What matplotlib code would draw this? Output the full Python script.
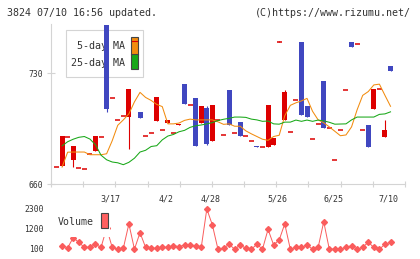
import numpy as np
import matplotlib
matplotlib.use("Agg")
import matplotlib.pyplot as plt
from matplotlib.patches import Rectangle
from matplotlib.transforms import blended_transform_factory

nan = np.nan

# daily prices (61 trading days)
opens = [670.7, 671.5, 689.6, 674.9, 670.3, 669.5, 678.7, 680.6, 690.0, 760.5,
         714.6, 700.5, 702.9, 702.6, nan, 705.6, 690.3, 692.2, 700.1, 694.2,
         698.8, 692.5, 697.0, 723.3, 709.8, 714.4, 698.8, 708.1, 686.9, 700.5,
         690.9, 719.5, 692.2, 699.3, 690.3, 687.1, 684.2, 683.5, 683.1, 684.8,
         749.5, 700.7, 693.0, 713.0, 749.7, 709.4, 688.6, 697.8, 725.1, 695.3,
         675.1, 694.1, 719.3, 749.7, 748.3, 694.1, 697.4, 707.7, 720.1, 690.0,
         734.6]
closes = [670.7, 690.5, 689.6, 683.7, 670.3, 669.5, 678.7, 690.5, 690.0, 707.3,
          714.6, 700.5, 702.9, 720.1, nan, 702.0, 690.3, 692.2, 715.1, 694.2,
          700.5, 692.5, 698.2, 710.8, 709.8, 683.7, 709.4, 685.4, 710.0, 700.5,
          690.9, 697.0, 692.2, 690.6, 690.3, 687.1, 683.1, 683.5, 710.0, 689.2,
          749.5, 718.2, 693.0, 713.0, 703.7, 702.4, 688.6, 697.8, 695.1, 695.3,
          675.1, 694.1, 719.3, 746.8, 748.3, 694.1, 683.1, 720.1, 720.1, 694.2,
          731.5]
highs = [670.7, 690.5, 689.6, 683.7, 670.3, 669.5, 678.7, 690.5, 690.0, 760.5,
         714.6, 700.5, 702.9, 720.1, nan, 705.6, 690.3, 692.2, 715.1, 694.2,
         700.5, 692.5, 698.2, 723.3, 709.8, 714.4, 709.4, 709.4, 710.0, 700.5,
         690.9, 719.5, 692.2, 699.3, 690.3, 687.1, 684.2, 683.5, 710.0, 689.2,
         750.5, 719.5, 693.0, 713.0, 749.7, 709.4, 688.6, 697.8, 725.1, 695.3,
         675.1, 694.1, 719.3, 749.7, 748.3, 694.1, 697.4, 720.1, 720.1, 700.5,
         734.6]
lows = [670.7, 671.5, 689.6, 670.7, 670.3, 669.5, 678.7, 680.6, 690.0, 705.4,
        714.6, 700.5, 702.9, 682.1, nan, 702.0, 690.3, 692.2, 700.1, 694.2,
        698.8, 692.5, 697.0, 710.8, 709.8, 683.7, 698.8, 684.8, 686.9, 700.5,
        690.9, 697.0, 692.2, 690.6, 690.3, 687.1, 683.1, 683.5, 683.1, 684.8,
        749.5, 700.7, 693.0, 713.0, 703.7, 702.4, 688.6, 697.8, 695.1, 695.3,
        675.1, 694.1, 719.3, 746.8, 748.3, 694.1, 683.1, 707.7, 720.1, 690.0,
        731.5]

# moving averages, days 1..60
ma5 = [670.7, 680.1, 680.2, 680.2, 680.2, 678.5, 678.5, 678.5, 679.1, 687.3,
       697.1, 700.5, 704.3, 711.9, 717.9, 714.7, 712.8, 710.3, 708.9, 698.0,
       698.0, 698.5, 700.2, 701.0, 700.5, 700.5, 700.5, 700.5, 699.3, 697.7,
       698.0, 696.5, 696.5, 693.6, 691.7, 690.0, 688.3, 687.6, 690.0, 690.8,
       703.1, 709.7, 711.3, 712.5, 714.1, 705.9, 700.5, 698.7, 696.1, 693.3,
       690.5, 691.0, 696.1, 706.9, 716.0, 718.4, 722.6, 723.1, 716.0, 709.1]
ma25 = [684.1, 686.7, 688.3, 689.5, 690.0, 688.4, 684.8, 678.2, 675.3, 673.9,
        673.4, 672.2, 673.7, 676.3, 680.2, 681.3, 683.7, 684.2, 687.9, 690.3,
        691.3, 693.0, 693.9, 695.8, 696.8, 697.3, 698.0, 698.8, 700.1, 700.9,
        701.5, 702.3, 702.3, 702.1, 701.0, 700.5, 699.6, 699.8, 698.0, 697.8,
        699.1, 699.1, 700.4, 699.6, 700.4, 699.6, 700.4, 699.9, 699.0, 697.8,
        697.9, 698.0, 700.5, 702.3, 702.3, 702.3, 702.3, 704.0, 704.3, 705.6]

# volume, days 1..60
volume = [280, 170, 720, 470, 190, 190, 360, 190, 1250, 190,
          90, 140, 1480, 90, 1000, 190, 140, 140, 190, 190,
          280, 230, 320, 320, 280, 190, 2300, 1420, 90, 140,
          360, 90, 320, 140, 90, 360, 90, 1180, 320, 600,
          1480, 90, 190, 190, 320, 90, 190, 1600, 90, 90,
          90, 190, 280, 90, 190, 470, 190, 90, 360, 470]

date_labels = ["3/17", "4/2", "4/28", "5/26", "6/25", "7/10"]
label_days = [10, 20, 28, 40, 50, 60]

RED = "#dd0000"
BLUE = "#4047c0"
ORANGE = "#f28c0f"
GREEN = "#18a818"
VOLC = "#fa5c5c"
GRID = "#d4d4d4"
TXT = "#333333"
MONO = "DejaVu Sans Mono"

fig = plt.figure(figsize=(4.2, 2.59), dpi=100)
ax = fig.add_axes([51 / 420, 75 / 259, 354 / 420, 160 / 259])
vax = fig.add_axes([51 / 420, 6 / 259, 354 / 420, 48 / 259], sharex=ax)

days = np.arange(len(opens))
for i in days:
    o, c, h, l = opens[i], closes[i], highs[i], lows[i]
    if np.isnan(o):
        continue
    col = RED if c >= o else BLUE
    if h > l:
        ax.vlines(i, l, h, color=col, lw=0.8, zorder=3)
    if o == c:
        ax.hlines(o, i - 0.45, i + 0.45, color=col, lw=1.1, zorder=3)
    else:
        ax.bar(i, c - o, bottom=o, width=0.9, color=col, lw=0, zorder=3)

ma_days = np.arange(1, len(ma5) + 1)
ax.plot(ma_days, ma5, color=ORANGE, lw=0.75, zorder=4)
ax.plot(ma_days, ma25, color=GREEN, lw=0.75, zorder=4)

ax.set_xlim(-0.99, 62.6)
ax.set_ylim(660, 761.1)
ax.set_xticks(np.linspace(-0.99, 62.6, 12))
ax.set_xticklabels([])
ax.set_yticks([660, 730])
ax.set_yticklabels(["660", "730"], family=MONO, fontsize=5.8, color=TXT)
for s in ["top", "right"]:
    ax.spines[s].set_visible(False)
for s in ["left", "bottom"]:
    ax.spines[s].set_color(GRID)
ax.tick_params(axis="y", direction="inout", length=6, color=GRID, pad=3)
ax.tick_params(axis="x", direction="inout", length=4.5, color=GRID)

# main legend
ax.add_patch(Rectangle((0.0415, 0.6706), 0.2192, 0.2919, transform=ax.transAxes,
                       facecolor="white", edgecolor=GRID, lw=0.8, zorder=1))
ax.text(0.209, 0.8625, "5-day MA", transform=ax.transAxes, ha="right", va="center",
        family=MONO, fontsize=7.2, color=TXT, zorder=2)
ax.text(0.209, 0.754, "25-day MA", transform=ax.transAxes, ha="right", va="center",
        family=MONO, fontsize=7.2, color=TXT, zorder=2)
ax.add_patch(Rectangle((0.226, 0.8044), 0.0189, 0.116, transform=ax.transAxes,
                       facecolor=ORANGE, edgecolor="#444444", lw=0.8, zorder=2))
ax.plot([0.228, 0.243], [0.894, 0.894], transform=ax.transAxes, color=RED, lw=0.8, zorder=2)
ax.add_patch(Rectangle((0.226, 0.7169), 0.0189, 0.0956, transform=ax.transAxes,
                       facecolor=GREEN, edgecolor="#444444", lw=0.8, zorder=2))

# date labels between the panels
tr = blended_transform_factory(ax.transData, fig.transFigure)
for d, lab in zip(label_days, date_labels):
    ax.text(d - 0.3, 1 - 199.5 / 259, lab, transform=tr, ha="center", va="center",
            family=MONO, fontsize=6, color=TXT, clip_on=False)

# volume panel
vdays = np.arange(1, len(volume) + 1)
vax.plot(vdays, volume, color=VOLC, lw=0.7, marker="D", ms=3.0, mec=VOLC, mfc=VOLC, zorder=2)
vax.set_ylim(-120, 2520)
vax.set_yticks([100, 1200, 2300])
vax.set_yticklabels(["100", "1200", "2300"], family=MONO, fontsize=5.8, color=TXT)
vax.tick_params(axis="y", length=0, pad=5)
vax.tick_params(axis="x", length=0, labelbottom=False)
for s in vax.spines.values():
    s.set_visible(False)
vax.add_patch(Rectangle((0.011, 0.34), 0.156, 0.7, transform=vax.transAxes,
                        facecolor="white", edgecolor="none", zorder=3, clip_on=False))
vax.text(0.0198, 0.652, "Volume", transform=vax.transAxes, ha="left", va="center",
         family=MONO, fontsize=7.1, color=TXT, zorder=4)
vax.add_patch(Rectangle((0.1412, 0.521), 0.0189, 0.3125, transform=vax.transAxes,
                        facecolor="#ff6060", edgecolor="#444444", lw=0.8, zorder=4))

fig.text(7 / 420, 1 - 13 / 259, "3824 07/10 16:56 updated.", family=MONO,
         fontsize=7.2, color=TXT, ha="left", va="center")
fig.text(411 / 420, 1 - 13 / 259, "(C)https://www.rizumu.net/", family=MONO,
         fontsize=7.2, color=TXT, ha="right", va="center")

fig.savefig("out.png", dpi=100)
